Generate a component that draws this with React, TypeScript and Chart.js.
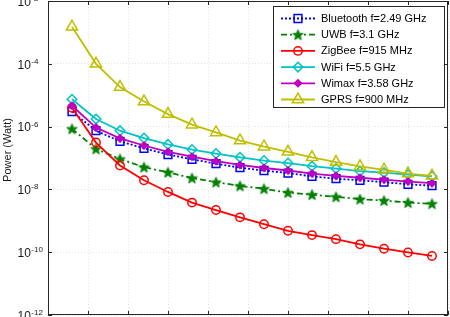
import React, { useEffect, useRef } from 'react';
import { Chart, registerables } from 'chart.js';
import { drawPoint } from 'chart.js/helpers';

Chart.register(...registerables);

// ---- data ----
const distances = [3, 6, 9, 12, 15, 18, 21, 24, 27, 30, 33, 36, 39, 42, 45, 48];
const seriesNames = [
  'Bluetooth f=2.49 GHz',
  'UWB f=3.1 GHz',
  'ZigBee f=915 MHz',
  'WiFi f=5.5 GHz',
  'Wimax f=3.58 GHz',
  'GPRS f=900 MHz',
];
const bluetooth = [3.0e-6, 7.4e-7, 3.4e-7, 2.04e-7, 1.29e-7, 9.1e-8, 6.6e-8, 4.9e-8, 4.0e-8, 3.3e-8, 2.6e-8, 2.2e-8, 1.95e-8, 1.7e-8, 1.45e-8, 1.32e-8];
const uwb = [8.5e-7, 1.95e-7, 9.3e-8, 5.1e-8, 3.5e-8, 2.3e-8, 1.7e-8, 1.29e-8, 1.05e-8, 7.9e-9, 6.8e-9, 5.8e-9, 4.9e-9, 4.4e-9, 3.8e-9, 3.5e-9];
const zigbee = [4.0e-6, 3.1e-7, 5.8e-8, 1.95e-8, 8.3e-9, 3.8e-9, 2.2e-9, 1.29e-9, 7.8e-10, 4.8e-10, 3.5e-10, 2.6e-10, 1.78e-10, 1.29e-10, 9.8e-11, 7.6e-11];
const wifi = [7.4e-6, 1.74e-6, 7.4e-7, 4.3e-7, 2.7e-7, 1.86e-7, 1.38e-7, 1.05e-7, 8.3e-8, 6.9e-8, 5.5e-8, 4.6e-8, 3.8e-8, 3.4e-8, 2.95e-8, 2.6e-8];
const wimax = [4.6e-6, 9.3e-7, 4.2e-7, 2.5e-7, 1.58e-7, 1.1e-7, 7.9e-8, 6.0e-8, 4.8e-8, 4.0e-8, 3.2e-8, 2.7e-8, 2.35e-8, 2.04e-8, 1.78e-8, 1.58e-8];
const gprs = [1.51e-3, 1.0e-4, 1.82e-5, 6.3e-6, 2.5e-6, 1.15e-6, 6.5e-7, 3.6e-7, 2.3e-7, 1.58e-7, 1.05e-7, 7.4e-8, 5.4e-8, 4.2e-8, 3.2e-8, 2.7e-8];

const xTicks = [0, 5, 10, 15, 20, 25, 30, 35, 40, 45, 50];
const yTicks = [1e-12, 1e-10, 1e-8, 1e-6, 1e-4, 1e-2];
const yTickExponents = ['-12', '-10', '-8', '-6', '-4', '-2'];
const yAxisTitle = 'Power (Watt)';

const FONT = '"Liberation Sans", Arial, Helvetica, sans-serif';

function makeStar(color: string, outer: number, inner: number): HTMLCanvasElement {
  const size = Math.ceil(outer * 2 + 2);
  const c = document.createElement('canvas');
  c.width = size;
  c.height = size;
  const g = c.getContext('2d')!;
  const cx = size / 2;
  const cy = size / 2 + 0.5;
  g.beginPath();
  for (let i = 0; i < 10; i++) {
    const r = i % 2 === 0 ? outer : inner;
    const a = -Math.PI / 2 + (i * Math.PI) / 5;
    const px = cx + r * Math.cos(a);
    const py = cy + r * Math.sin(a);
    if (i === 0) g.moveTo(px, py);
    else g.lineTo(px, py);
  }
  g.closePath();
  g.fillStyle = color;
  g.fill();
  g.strokeStyle = color;
  g.lineWidth = 1;
  g.stroke();
  return c;
}

const matlabAxes = {
  id: 'matlabAxes',
  afterDatasetsDraw(chart: any) {
    const { ctx, chartArea: a, scales } = chart;
    const x = scales.x;
    const y = scales.y;
    ctx.save();
    ctx.strokeStyle = '#262626';
    ctx.lineWidth = 1;
    ctx.strokeRect(a.left + 0.5, a.top + 0.5, a.right - a.left - 1, a.bottom - a.top - 1);
    ctx.beginPath();
    x.ticks.forEach((t: any) => {
      const px = Math.round(x.getPixelForValue(t.value)) + 0.5;
      ctx.moveTo(px, a.top);
      ctx.lineTo(px, a.top + 4);
      ctx.moveTo(px, a.bottom);
      ctx.lineTo(px, a.bottom - 4);
    });
    y.ticks.forEach((t: any) => {
      const py = Math.round(y.getPixelForValue(t.value)) + 0.5;
      ctx.moveTo(a.left, py);
      ctx.lineTo(a.left + 4, py);
      ctx.moveTo(a.right, py);
      ctx.lineTo(a.right - 4, py);
    });
    ctx.stroke();

    // y tick labels with superscript exponents
    ctx.fillStyle = '#1a1a1a';
    ctx.textAlign = 'left';
    yTicks.forEach((v, i) => {
      const py = y.getPixelForValue(v);
      ctx.font = `12px ${FONT}`;
      ctx.textBaseline = 'middle';
      const baseX = 17.5;
      ctx.fillText('10', baseX, py + 1.5);
      const w = ctx.measureText('10').width;
      ctx.font = `8px ${FONT}`;
      ctx.textBaseline = 'alphabetic';
      ctx.fillText(yTickExponents[i], baseX + w + 0.5, py);
    });

    // y axis title
    ctx.save();
    ctx.font = `11px ${FONT}`;
    ctx.textAlign = 'center';
    ctx.textBaseline = 'middle';
    ctx.translate(8, 150);
    ctx.rotate(-Math.PI / 2);
    ctx.fillText(yAxisTitle, 0, 0);
    ctx.restore();
    ctx.restore();
  },
  afterDraw(chart: any) {
    const { ctx, chartArea: a } = chart;
    const datasets = chart.data.datasets;
    const boxRight = a.right - 3;
    const boxLeft = boxRight - 172;
    const boxTop = a.top + 5;
    const rowH = 16.2;
    const boxH = 102;
    ctx.save();
    ctx.fillStyle = '#ffffff';
    ctx.fillRect(boxLeft, boxTop, boxRight - boxLeft, boxH);
    ctx.strokeStyle = '#262626';
    ctx.lineWidth = 1;
    ctx.strokeRect(boxLeft + 0.5, boxTop + 0.5, boxRight - boxLeft - 1, boxH - 1);
    datasets.forEach((ds: any, i: number) => {
      const cy = boxTop + 12.5 + i * rowH;
      const x0 = boxLeft + 8;
      const x1 = boxLeft + 42;
      ctx.save();
      ctx.strokeStyle = ds.borderColor;
      ctx.lineWidth = ds.borderWidth;
      ctx.setLineDash(ds.borderDash || []);
      ctx.beginPath();
      ctx.moveTo(x0, cy);
      ctx.lineTo(x1, cy);
      ctx.stroke();
      ctx.setLineDash([]);
      ctx.fillStyle = ds.pointBackgroundColor;
      ctx.strokeStyle = ds.pointBorderColor;
      ctx.lineWidth = ds.pointBorderWidth;
      drawPoint(ctx, {
        pointStyle: ds.pointStyle,
        rotation: 0,
        radius: ds.pointRadius,
        borderWidth: ds.pointBorderWidth,
      } as any, (x0 + x1) / 2, cy);
      ctx.restore();
      ctx.fillStyle = '#000000';
      ctx.font = `11px ${FONT}`;
      ctx.textAlign = 'left';
      ctx.textBaseline = 'middle';
      ctx.fillText(seriesNames[i], boxLeft + 48, cy + 0.5);
    });
    ctx.restore();
  },
};

export default function App() {
  const ref = useRef<HTMLCanvasElement | null>(null);
  useEffect(() => {
    document.body.style.margin = '0';
    const canvas = ref.current!;
    const star = makeStar('#008000', 5.5, 2.3);
    const toXY = (vals: number[]) => vals.map((v, i) => ({ x: distances[i], y: v }));
    const base = { borderWidth: 1.8, pointBorderWidth: 1.5, tension: 0, fill: false };
    const chart = new Chart(canvas, {
      type: 'line',
      data: {
        datasets: [
          { ...base, label: seriesNames[0], data: toXY(bluetooth), borderColor: '#0000ff', borderDash: [2, 2], pointStyle: 'rect', pointRadius: 5.5, pointBorderColor: '#0000ff', pointBackgroundColor: 'rgba(0,0,0,0)', order: 6 },
          { ...base, label: seriesNames[1], data: toXY(uwb), borderColor: '#008000', borderDash: [6, 3, 2, 3], pointStyle: star, pointRadius: 5.5, pointBorderColor: '#008000', pointBackgroundColor: '#008000', order: 5 },
          { ...base, label: seriesNames[2], data: toXY(zigbee), borderColor: '#ff0000', pointStyle: 'circle', pointRadius: 4.2, pointBorderColor: '#ff0000', pointBackgroundColor: 'rgba(0,0,0,0)', order: 4 },
          { ...base, label: seriesNames[3], data: toXY(wifi), borderColor: '#00c4c4', pointStyle: 'rectRot', pointRadius: 4.8, pointBorderColor: '#00c4c4', pointBackgroundColor: 'rgba(0,0,0,0)', order: 3 },
          { ...base, label: seriesNames[4], data: toXY(wimax), borderColor: '#bf00bf', pointStyle: 'rectRot', pointRadius: 3.5, pointBorderColor: '#bf00bf', pointBackgroundColor: '#bf00bf', order: 2 },
          { ...base, label: seriesNames[5], data: toXY(gprs), borderColor: '#bfbf00', pointStyle: 'triangle', pointRadius: 6.5, pointBorderColor: '#bfbf00', pointBackgroundColor: 'rgba(0,0,0,0)', order: 1 },
        ],
      },
      options: {
        animation: false,
        responsive: false,
        events: [],
        layout: { autoPadding: false, padding: { left: 48, right: 2, top: 1, bottom: 2 } },
        plugins: { legend: { display: false }, tooltip: { enabled: false } },
        scales: {
          x: {
            type: 'linear',
            min: xTicks[0],
            max: xTicks[xTicks.length - 1],
            afterBuildTicks: (s: any) => { s.ticks = xTicks.map((v) => ({ value: v })); },
            ticks: { display: false },
            grid: { color: 'rgba(0,0,0,0.11)', lineWidth: 1, drawTicks: false },
            border: { display: false, dash: [1, 2] },
          },
          y: {
            type: 'logarithmic',
            min: yTicks[0],
            max: yTicks[yTicks.length - 1],
            afterBuildTicks: (s: any) => { s.ticks = yTicks.map((v) => ({ value: v })); },
            ticks: { display: false },
            grid: { color: 'rgba(0,0,0,0.11)', lineWidth: 1, drawTicks: false },
            border: { display: false, dash: [1, 2] },
          },
        },
      } as any,
      plugins: [matlabAxes as any],
    });
    return () => chart.destroy();
  }, []);
  return <canvas ref={ref} width={450} height={317} style={{ display: 'block' }} />;
}
